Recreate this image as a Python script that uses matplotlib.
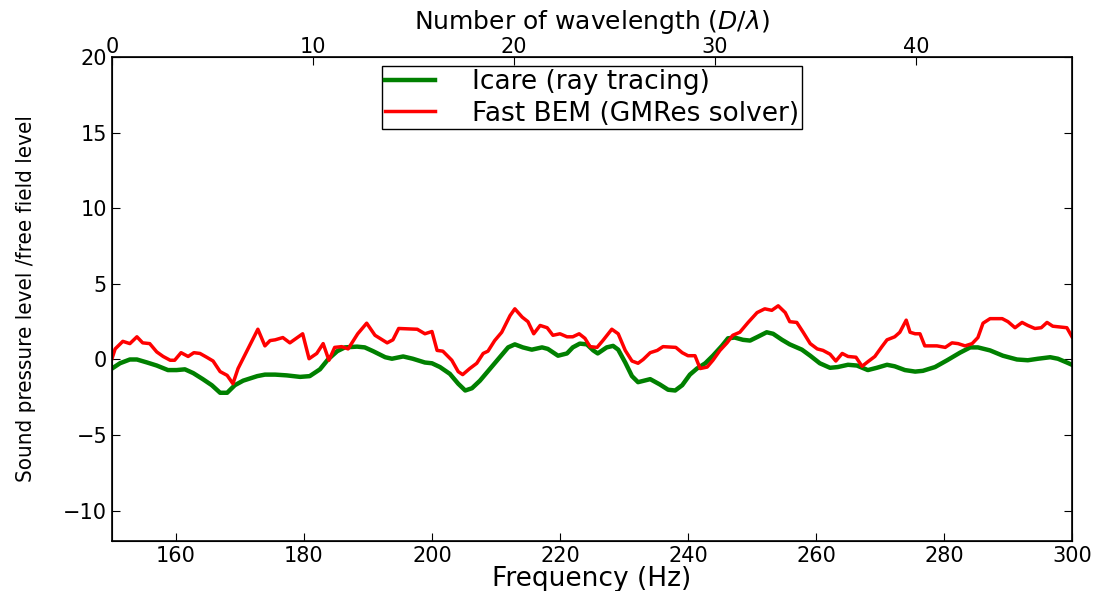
import numpy as np
import matplotlib
matplotlib.use("Agg")
import matplotlib.pyplot as plt

# Icare (ray tracing)
f_icare = [150.0, 151.25, 152.8, 153.9, 155.5, 157.0, 158.75, 160.1, 161.4, 162.7,
           164.2, 165.6, 166.9, 168.0, 169.2, 170.5, 172.7, 173.9, 175.5, 177.3,
           179.4, 180.9, 182.5, 183.75, 185.2, 186.4, 188.3, 189.5, 190.8, 192.7,
           193.75, 195.5, 197.0, 198.9, 200.0, 201.25, 202.8, 204.1, 205.2, 206.25,
           207.5, 209.1, 210.6, 211.9, 212.95, 214.2, 215.6, 217.2, 218.1, 219.7,
           221.1, 222.0, 223.1, 224.2, 225.2, 225.9, 227.3, 228.3, 229.1, 230.2,
           231.25, 232.2, 234.1, 235.6, 236.9, 238.0, 239.1, 240.3, 241.4, 242.7,
           243.9, 245.3, 246.25, 247.3, 248.6, 249.7, 250.9, 252.3, 253.3, 254.7,
           255.9, 257.8, 259.1, 260.6, 262.2, 263.4, 265.0, 266.4, 268.1, 269.5,
           271.1, 272.3, 273.9, 275.5, 276.7, 278.6, 280.5, 282.5, 284.1, 285.3,
           287.2, 289.2, 291.4, 293.1, 294.7, 296.6, 297.8, 299.2, 300.0]
spl_icare = [-0.6, -0.25, 0.0, 0.0, -0.2, -0.4, -0.7, -0.7, -0.65, -0.9,
             -1.3, -1.7, -2.2, -2.2, -1.7, -1.4, -1.1, -1.0, -1.0, -1.05,
             -1.15, -1.1, -0.65, 0.0, 0.55, 0.8, 0.85, 0.8, 0.55, 0.15,
             0.05, 0.2, 0.05, -0.2, -0.25, -0.5, -0.95, -1.6, -2.05, -1.9,
             -1.4, -0.6, 0.15, 0.8, 1.0, 0.8, 0.65, 0.8, 0.7, 0.25,
             0.4, 0.8, 1.05, 1.0, 0.6, 0.4, 0.8, 0.9, 0.65, -0.2,
             -1.1, -1.5, -1.3, -1.65, -2.0, -2.05, -1.7, -1.0, -0.6, -0.25,
             0.25, 0.9, 1.4, 1.45, 1.3, 1.25, 1.5, 1.8, 1.7, 1.3,
             1.0, 0.65, 0.25, -0.25, -0.55, -0.5, -0.35, -0.4, -0.7, -0.55,
             -0.35, -0.45, -0.7, -0.8, -0.75, -0.5, -0.05, 0.45, 0.8, 0.8,
             0.6, 0.25, 0.0, -0.05, 0.05, 0.15, 0.05, -0.2, -0.35]

# Fast BEM (GMRes solver)
f_bem = [150.0, 150.5, 151.7, 152.8, 153.9, 154.8, 155.9, 157.0, 158.0, 159.1,
         159.8, 160.8, 161.9, 162.8, 163.75, 164.8, 165.8, 166.9, 168.0, 168.9,
         169.7, 172.8, 173.9, 174.7, 175.5, 176.7, 177.8, 179.8, 180.8, 182.0,
         183.0, 183.9, 184.8, 185.9, 186.9, 188.4, 189.8, 191.1, 193.0, 193.9,
         194.8, 197.7, 198.9, 200.0, 200.8, 201.7, 203.1, 204.1, 204.8, 205.9,
         207.0, 208.0, 208.75, 209.8, 210.9, 212.2, 212.95, 214.1, 215.0, 215.9,
         216.9, 218.0, 218.9, 220.0, 221.1, 222.0, 223.0, 223.9, 224.7, 225.8,
         226.7, 228.1, 229.1, 230.2, 231.25, 232.2, 233.0, 234.1, 235.2, 236.1,
         238.1, 239.1, 240.0, 241.1, 241.9, 243.0, 243.9, 245.0, 246.1, 247.0,
         248.1, 249.4, 250.8, 252.0, 253.1, 254.1, 255.2, 255.9, 257.0, 258.0,
         259.1, 260.2, 261.1, 262.2, 263.1, 264.1, 265.0, 266.25, 267.2, 268.1,
         269.2, 270.3, 271.1, 272.3, 273.1, 274.1, 274.7, 275.5, 276.25, 277.0,
         278.9, 280.2, 281.25, 282.2, 283.3, 284.4, 285.3, 286.1, 287.2, 289.1,
         290.0, 291.1, 292.2, 293.1, 294.2, 295.2, 296.1, 297.0, 299.2, 300.0]
spl_bem = [0.05, 0.7, 1.2, 1.05, 1.5, 1.1, 1.05, 0.5, 0.2, -0.05,
           -0.05, 0.45, 0.2, 0.45, 0.4, 0.15, -0.1, -0.8, -1.05, -1.6,
           -0.6, 2.0, 0.9, 1.25, 1.3, 1.45, 1.1, 1.7, 0.05, 0.4,
           1.05, -0.05, 0.8, 0.85, 0.7, 1.7, 2.4, 1.6, 1.1, 1.3,
           2.05, 2.0, 1.7, 1.85, 0.6, 0.55, -0.05, -0.8, -1.0, -0.6,
           -0.25, 0.4, 0.55, 1.25, 1.8, 2.9, 3.35, 2.8, 2.5, 1.7,
           2.25, 2.1, 1.6, 1.7, 1.5, 1.5, 1.7, 1.4, 0.85, 0.8,
           1.25, 2.0, 1.7, 0.6, -0.1, -0.25, 0.0, 0.45, 0.6, 0.85,
           0.8, 0.45, 0.25, 0.25, -0.6, -0.5, -0.05, 0.6, 1.1, 1.6,
           1.8, 2.45, 3.1, 3.35, 3.25, 3.55, 3.1, 2.5, 2.45, 1.8,
           1.05, 0.7, 0.6, 0.35, -0.1, 0.4, 0.2, 0.15, -0.45, -0.15,
           0.2, 0.85, 1.3, 1.5, 1.8, 2.6, 1.8, 1.7, 1.7, 0.9,
           0.9, 0.8, 1.1, 1.05, 0.9, 1.05, 1.45, 2.4, 2.7, 2.7,
           2.5, 2.1, 2.45, 2.25, 2.05, 2.1, 2.45, 2.2, 2.1, 1.5]

top_max = 47.76  # D/lambda at 300 Hz

plt.rcParams["font.family"] = "DejaVu Sans"
fig = plt.figure(figsize=(11.04, 5.91), dpi=100)
ax = fig.add_axes([0.1014, 0.0846, 0.8696, 0.819])

ax.plot(f_icare, spl_icare, color=(0, 0.5, 0), lw=3.2, label="Icare (ray tracing)")
ax.plot(f_bem, spl_bem, color="r", lw=2.5, label="Fast BEM (GMRes solver)")
ax.set_xlim(150, 300)
ax.set_ylim(-12, 20)
ax.set_yticks(np.arange(-10, 21, 5))
ax.set_xticks(np.arange(160, 301, 20))
ax.tick_params(direction="in", length=6, labelsize=15, top=False, right=True)
ax.set_xlabel("Frequency (Hz)", fontsize=19, labelpad=0)
ax.set_ylabel("Sound pressure level /free field level", fontsize=16,
              fontstretch="condensed")
ax.yaxis.set_label_coords(-0.079, 0.5)
for s in ax.spines.values():
    s.set_linewidth(1.2)

ax2 = ax.twiny()
ax2.set_xlim(0, top_max)
ax2.set_xticks(np.arange(0, 41, 10))
ax2.tick_params(direction="in", length=6, labelsize=15, pad=0)
ax2.set_xlabel(r"Number of wavelength ($D/\lambda$)", fontsize=18, labelpad=6)

leg = ax.legend(loc="upper center", fontsize=19, handlelength=1.9,
                fancybox=False, framealpha=1, edgecolor="k",
                borderpad=0.1, labelspacing=0.22, handletextpad=1.4,
                borderaxespad=0.35)
leg.get_frame().set_linewidth(1.0)

plt.savefig("out.png", dpi=100)
